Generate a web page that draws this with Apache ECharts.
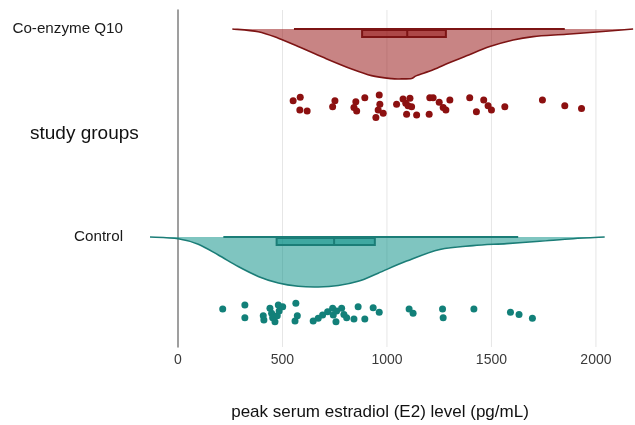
<!DOCTYPE html>
<html>
<head>
<meta charset="utf-8">
<script src="https://cdn.jsdelivr.net/npm/echarts@6/dist/echarts.min.js"></script>
<style>
html,body{margin:0;padding:0;background:#fff;}
#chart{width:635px;height:425px;}
</style>
</head>
<body>
<div id="chart"></div>
<script>
// ---- data ----
var groupNames = ['Control', 'Co-enzyme Q10'];
var xTicks = [0, 500, 1000, 1500, 2000];
var gridTicks = [500, 1000, 1500, 2000];

// boxplot stats: [whiskerLow, Q1, median, Q3, whiskerHigh]
var controlBox = [217, 472, 747, 942, 1628];
var q10Box = [555, 881, 1097, 1282, 1851];

// density outlines (value, relative density)
var controlDensX = [-134, 1, 97, 193, 288, 384, 480, 575, 671, 767, 862, 958, 1094, 1253, 1412, 1572, 1731, 1891, 2042];
var controlDensY = [0, 0.034, 0.144, 0.361, 0.592, 0.789, 0.921, 0.986, 1.0, 0.972, 0.888, 0.724, 0.483, 0.25, 0.172, 0.132, 0.085, 0.034, 0];
var q10DensX = [260, 384, 480, 575, 703, 831, 926, 1022, 1070, 1118, 1142, 1221, 1301, 1381, 1492, 1604, 1700, 1859, 2018, 2178];
var q10DensY = [0, 0.054, 0.185, 0.352, 0.583, 0.801, 0.934, 0.995, 1.0, 0.99, 0.934, 0.815, 0.67, 0.537, 0.352, 0.219, 0.153, 0.105, 0.054, 0];

// raw observations and their jittered group coordinate
var q10Values = [551,585,583,618,751,740,851,842,855,894,963,966,958,947,982,1046,1077,1110,1090,1101,1118,1094,1142,1205,1221,1250,1269,1282,1301,1202,1396,1428,1463,1484,1500,1564,1744,1851,1931];
var q10Jitter = [0.655,0.672,0.611,0.606,0.655,0.626,0.650,0.622,0.606,0.670,0.683,0.638,0.611,0.575,0.595,0.638,0.663,0.667,0.643,0.631,0.626,0.590,0.587,0.670,0.670,0.648,0.622,0.611,0.659,0.590,0.670,0.602,0.659,0.631,0.611,0.626,0.659,0.631,0.618];
var controlValues = [214,320,320,408,411,440,448,453,464,475,484,480,501,564,571,560,647,671,692,716,740,743,756,759,783,794,807,842,862,894,934,963,1106,1125,1266,1269,1416,1591,1632,1696];
var controlJitter = [-0.346,-0.327,-0.388,-0.378,-0.399,-0.343,-0.367,-0.388,-0.407,-0.378,-0.356,-0.327,-0.335,-0.319,-0.378,-0.404,-0.404,-0.391,-0.375,-0.359,-0.343,-0.375,-0.407,-0.356,-0.343,-0.372,-0.388,-0.394,-0.335,-0.394,-0.340,-0.362,-0.346,-0.367,-0.346,-0.388,-0.346,-0.362,-0.372,-0.391];

// ---- styles ----
var FONT = 'Liberation Sans, Arial, sans-serif';
var VIOLIN_W = 0.24;   // max violin depth in group units
var BOX_TOP = 0.005, BOX_BOTTOM = 0.038;
var groups = [
  {dx: controlDensX, dy: controlDensY, box: controlBox, fill: 'rgba(0,140,130,0.5)', stroke: '#1b7d77'},
  {dx: q10DensX, dy: q10DensY, box: q10Box, fill: 'rgba(145,10,10,0.5)', stroke: '#7d1414'}
];

function catmull(pts) {
  var d = 'M' + pts[0][0] + ' ' + pts[0][1];
  for (var i = 0; i < pts.length - 1; i++) {
    var p0 = pts[i - 1] || pts[i], p1 = pts[i], p2 = pts[i + 1], p3 = pts[i + 2] || pts[i + 1];
    var c1x = p1[0] + (p2[0] - p0[0]) / 6, c1y = p1[1] + (p2[1] - p0[1]) / 6;
    var c2x = p2[0] - (p3[0] - p1[0]) / 6, c2y = p2[1] - (p3[1] - p1[1]) / 6;
    d += ' C' + c1x + ' ' + c1y + ' ' + c2x + ' ' + c2y + ' ' + p2[0] + ' ' + p2[1];
  }
  return d;
}

function renderViolin(params, api) {
  var gi = api.value(0);
  var g = groups[gi];
  var pts = g.dx.map(function (x, k) { return api.coord([x, gi - g.dy[k] * VIOLIN_W]); });
  var path = catmull(pts);
  return {
    type: 'group',
    children: [
      {type: 'path', shape: {pathData: path + ' Z'}, style: {fill: g.fill, stroke: null}},
      {type: 'path', shape: {pathData: path}, style: {fill: null, stroke: g.stroke, lineWidth: 1.6}}
    ]
  };
}

function renderBox(params, api) {
  var gi = api.value(0);
  var g = groups[gi];
  var b = g.box;
  var wl = api.coord([b[0], gi]), wh = api.coord([b[4], gi]);
  var q1t = api.coord([b[1], gi - BOX_TOP]), q3b = api.coord([b[3], gi - BOX_BOTTOM]);
  var mt = api.coord([b[2], gi - BOX_TOP]), mb = api.coord([b[2], gi - BOX_BOTTOM]);
  return {
    type: 'group',
    children: [
      {type: 'line', shape: {x1: wl[0], y1: wl[1], x2: wh[0], y2: wh[1]}, style: {stroke: g.stroke, lineWidth: 2}},
      {type: 'rect', shape: {x: q1t[0], y: q1t[1], width: q3b[0] - q1t[0], height: q3b[1] - q1t[1]}, style: {fill: g.fill, stroke: g.stroke, lineWidth: 2}},
      {type: 'line', shape: {x1: mt[0], y1: mt[1], x2: mb[0], y2: mb[1]}, style: {stroke: g.stroke, lineWidth: 2}}
    ]
  };
}

function renderGrid(params, api) {
  var x = api.coord([api.value(0), 0])[0];
  var cs = params.coordSys;
  return {type: 'line', shape: {x1: x, y1: cs.y, x2: x, y2: cs.y + cs.height}, style: {stroke: '#e6e6e6', lineWidth: 1}};
}

var chart = echarts.init(document.getElementById('chart'), null, {renderer: 'canvas'});
chart.setOption({
  backgroundColor: '#fff',
  animation: false,
  title: {
    text: 'study groups', left: 30, top: 124, padding: 0,
    textStyle: {fontFamily: FONT, fontSize: 19, fontWeight: 'normal', color: '#111'}
  },
  grid: {left: 150, right: 0, top: 10, bottom: 78, containLabel: false, outerBoundsMode: 'none'},
  xAxis: {
    type: 'value', min: -134, max: 2187,
    name: 'peak serum estradiol (E2) level (pg/mL)',
    nameLocation: 'middle', nameGap: 57,
    nameTextStyle: {fontFamily: FONT, fontSize: 17, color: '#111', padding: [0, 25, 0, 0]},
    axisLine: {show: false}, axisTick: {show: false}, splitLine: {show: false},
    axisLabel: {customValues: xTicks, fontFamily: FONT, fontSize: 14, color: '#3a3a3a', margin: 6,
      formatter: function (v) { return String(v); }}
  },
  yAxis: {
    type: 'value', min: -0.5288, max: 1.0913,
    axisLine: {show: true, onZero: true, lineStyle: {color: '#7f7f7f', width: 1.5}},
    axisTick: {show: false}, splitLine: {show: false},
    axisLabel: {
      customValues: [0, 1], margin: 27, fontFamily: FONT, fontSize: 15.2, color: '#1a1a1a',
      formatter: function (v) { return groupNames[Math.round(v)]; }
    }
  },
  series: [
    {type: 'custom', z: 1, silent: true, renderItem: renderGrid, data: gridTicks.map(function (v) { return [v]; }), clip: true},
    {type: 'custom', z: 2, silent: true, renderItem: renderViolin, data: [[0], [1]], clip: true},
    {type: 'custom', z: 3, silent: true, renderItem: renderBox, data: [[0], [1]]},
    {type: 'scatter', z: 4, symbolSize: 7, itemStyle: {color: '#128079', opacity: 1},
      data: controlValues.map(function (v, i) { return [v, controlJitter[i]]; })},
    {type: 'scatter', z: 4, symbolSize: 7, itemStyle: {color: '#8c1010', opacity: 1},
      data: q10Values.map(function (v, i) { return [v, q10Jitter[i]]; })}
  ]
});
</script>
</body>
</html>
